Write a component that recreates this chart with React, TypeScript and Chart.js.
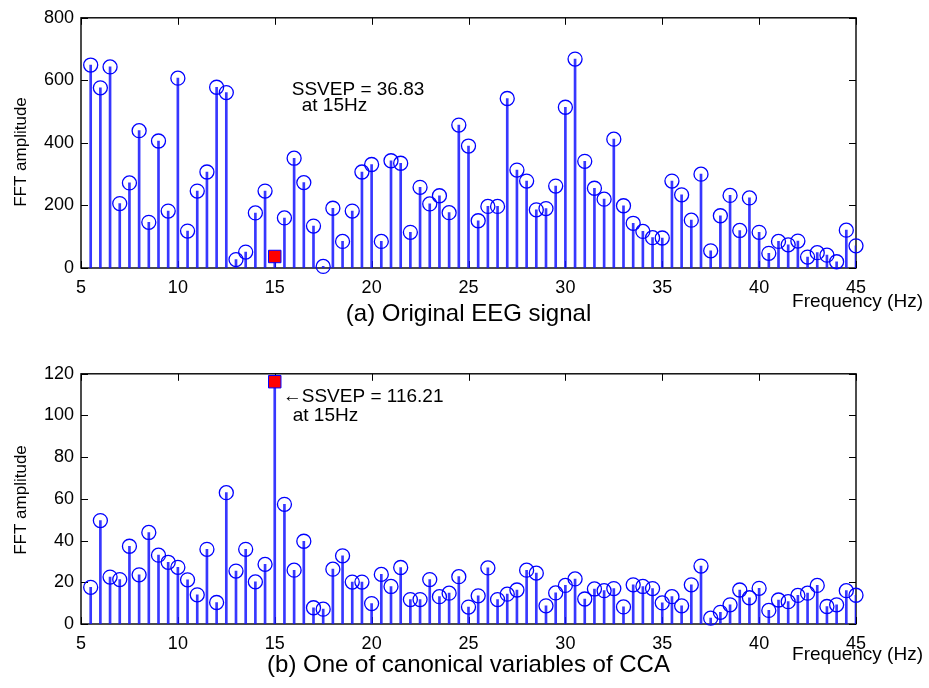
import React, { useEffect, useRef } from "react";
import { Chart, registerables } from "chart.js";

Chart.register(...registerables);

// ---------- data ----------
const frequencies = [
  5.5, 6, 6.5, 7, 7.5, 8, 8.5, 9, 9.5, 10,
  10.5, 11, 11.5, 12, 12.5, 13, 13.5, 14, 14.5, 15,
  15.5, 16, 16.5, 17, 17.5, 18, 18.5, 19, 19.5, 20,
  20.5, 21, 21.5, 22, 22.5, 23, 23.5, 24, 24.5, 25,
  25.5, 26, 26.5, 27, 27.5, 28, 28.5, 29, 29.5, 30,
  30.5, 31, 31.5, 32, 32.5, 33, 33.5, 34, 34.5, 35,
  35.5, 36, 36.5, 37, 37.5, 38, 38.5, 39, 39.5, 40,
  40.5, 41, 41.5, 42, 42.5, 43, 43.5, 44, 44.5, 45,
];

const eegAmplitude = [
  649, 576, 643, 206, 272, 439, 146, 406, 182, 607,
  118, 246, 307, 578, 561, 27, 51, 176, 246, 36.83,
  160, 351, 273, 134, 5, 191, 85, 182, 307, 331,
  85, 343, 335, 114, 258, 205, 231, 177, 457, 390,
  151, 197, 197, 542, 313, 278, 186, 190, 262, 514,
  668, 341, 255, 220, 412, 199, 143, 117, 97, 96,
  278, 234, 153, 300, 55, 167, 232, 120, 224, 114,
  47, 85, 74, 86, 35, 49, 41, 20, 121, 71,
];

const ccaAmplitude = [
  17.6, 49.6, 22.5, 21.3, 37.3, 23.6, 43.9, 33, 29.6, 27.2,
  21.2, 14, 35.8, 10.3, 63, 25.4, 35.8, 20.2, 28.6, 116.21,
  57.4, 25.8, 39.7, 7.8, 7.1, 26.3, 32.7, 20.1, 20.1, 9.8,
  23.8, 18, 27.1, 11.7, 11.7, 21.3, 13.1, 14.8, 22.7, 8.1,
  13.5, 26.9, 11.7, 14.3, 16.3, 25.8, 24.4, 8.7, 14.9, 18.5,
  21.6, 12, 16.8, 16, 17, 8.2, 18.8, 18, 17, 10.1,
  13.1, 8.7, 18.8, 27.8, 2.8, 5.6, 9.2, 16.3, 12.6, 17.1,
  6.5, 11.5, 10.7, 13.7, 14.8, 18.5, 8.4, 9.2, 16, 13.8,
];

const freqTicks = [5, 10, 15, 20, 25, 30, 35, 40, 45];
const eegTicks = [0, 200, 400, 600, 800];
const ccaTicks = [0, 20, 40, 60, 80, 100, 120];
const ssvepFreq = 15;

// ---------- styles ----------
const FONT = "'Liberation Sans', Arial, Helvetica, sans-serif";
const BLUE = "#0000ff";
const W = 929;

type PanelProps = {
  amps: number[];
  yTicks: number[];
  caption: string;
  note1: string;
  note2: string;
  note1Dx: number;
  note2Dx: number;
  note1Y: number;
  note2Y: number;
  freqLabelY: number;
  captionY: number;
  yLabelCenter: number;
  height: number;
  top: number;
};

function Panel(p: PanelProps) {
  const ref = useRef<HTMLCanvasElement>(null);

  useEffect(() => {
    const canvas = ref.current;
    if (!canvas) return;
    const peakIdx = frequencies.indexOf(ssvepFreq);
    const pts = frequencies.map((f, i) => ({ x: f, y: p.amps[i] }));
    const circles = pts.filter((_, i) => i !== peakIdx);
    const peak = [pts[peakIdx]];

    const decor = {
      id: "decor",
      beforeDatasetsDraw(chart: any) {
        const { ctx, chartArea: a, scales } = chart;
        const xs = scales.x;
        const ys = scales.y;
        ctx.save();
        ctx.strokeStyle = "#000";
        ctx.lineWidth = 1;
        ctx.beginPath();
        for (const t of freqTicks) {
          const px = Math.round(xs.getPixelForValue(t)) + 0.5;
          ctx.moveTo(px, a.bottom);
          ctx.lineTo(px, a.bottom - 7);
          ctx.moveTo(px, a.top);
          ctx.lineTo(px, a.top + 7);
        }
        for (const t of p.yTicks) {
          const py = Math.round(ys.getPixelForValue(t)) + 0.5;
          ctx.moveTo(a.left, py);
          ctx.lineTo(a.left + 7, py);
          ctx.moveTo(a.right, py);
          ctx.lineTo(a.right - 7, py);
        }
        ctx.stroke();
        ctx.lineWidth = 1.4;
        ctx.strokeRect(a.left, a.top, a.right - a.left, a.bottom - a.top);
        ctx.restore();
      },
      afterDraw(chart: any) {
        const { ctx, chartArea: a, scales } = chart;
        const xs = scales.x;
        const px15 = xs.getPixelForValue(ssvepFreq);
        ctx.save();
        ctx.fillStyle = "#000";
        ctx.textBaseline = "alphabetic";
        ctx.textAlign = "left";
        ctx.font = `19px ${FONT}`;
        ctx.fillText(p.note1, px15 + p.note1Dx, p.note1Y);
        ctx.fillText(p.note2, px15 + p.note2Dx, p.note2Y);
        ctx.textAlign = "right";
        ctx.fillText("Frequency (Hz)", 923, p.freqLabelY);
        ctx.textAlign = "center";
        ctx.font = `24px ${FONT}`;
        ctx.fillText(p.caption, (a.left + a.right) / 2, p.captionY);
        ctx.translate(21, p.yLabelCenter);
        ctx.rotate(-Math.PI / 2);
        ctx.font = `17px ${FONT}`;
        ctx.textBaseline = "middle";
        ctx.fillText("FFT amplitude", 0, 0);
        ctx.restore();
      },
    };

    const chart = new Chart(canvas, {
      type: "bar",
      data: {
        datasets: [
          {
            type: "bar",
            data: pts as any,
            backgroundColor: "rgba(20,20,255,0.85)",
            borderWidth: 0,
            barThickness: 2,
            order: 3,
          } as any,
          {
            type: "scatter",
            data: circles as any,
            pointStyle: "circle",
            pointRadius: 7,
            borderColor: BLUE,
            backgroundColor: "rgba(0,0,0,0)",
            borderWidth: 1.3,
            clip: false,
            order: 2,
          } as any,
          {
            type: "scatter",
            data: peak as any,
            pointStyle: "rect",
            pointRadius: 8.8,
            borderColor: BLUE,
            backgroundColor: "#ff0000",
            borderWidth: 1,
            clip: false,
            order: 1,
          } as any,
        ],
      },
      options: {
        responsive: false,
        animation: false,
        events: [],
        layout: { padding: { left: 0, right: 73, top: 12, bottom: 0 } },
        plugins: {
          legend: { display: false },
          tooltip: { enabled: false },
          title: { display: false },
        },
        scales: {
          x: {
            type: "linear",
            min: 5,
            max: 45,
            offset: false,
            grid: { display: false, drawTicks: false, offset: false },
            border: { display: false },
            ticks: {
              color: "#000",
              font: { family: FONT, size: 18 },
              padding: 9,
              maxRotation: 0,
              autoSkip: false,
            },
            afterBuildTicks: (s: any) => {
              s.ticks = freqTicks.map((v) => ({ value: v }));
            },
            afterFit: (s: any) => {
              s.height = p.height - 268;
            },
          },
          y: {
            type: "linear",
            min: p.yTicks[0],
            max: p.yTicks[p.yTicks.length - 1],
            grid: { display: false, drawTicks: false },
            border: { display: false },
            ticks: {
              color: "#000",
              font: { family: FONT, size: 18 },
              padding: 7,
            },
            afterBuildTicks: (s: any) => {
              s.ticks = p.yTicks.map((v) => ({ value: v }));
            },
            afterFit: (s: any) => {
              s.width = 81;
            },
          },
        } as any,
      },
      plugins: [decor],
    });
    return () => chart.destroy();
  }, []);

  return (
    <canvas
      ref={ref}
      width={W}
      height={p.height}
      style={{
        position: "absolute",
        left: 0,
        top: p.top,
        width: W,
        height: p.height,
        display: "block",
      }}
    />
  );
}

export default function App() {
  return (
    <div
      style={{
        position: "fixed",
        left: 0,
        top: 0,
        width: W,
        height: 688,
        overflow: "hidden",
        background: "#fff",
      }}
    >
      <Panel
        amps={eegAmplitude}
        yTicks={eegTicks}
        caption="(a) Original EEG signal"
        note1="SSVEP = 36.83"
        note2="at 15Hz"
        note1Dx={17}
        note2Dx={27}
        note1Y={95}
        note2Y={111}
        freqLabelY={307}
        captionY={321}
        yLabelCenter={152}
        height={356}
        top={0}
      />
      <Panel
        amps={ccaAmplitude}
        yTicks={ccaTicks}
        caption="(b) One of canonical variables of CCA"
        note1="←SSVEP = 116.21"
        note2="at 15Hz"
        note1Dx={8}
        note2Dx={18}
        note1Y={46}
        note2Y={65}
        freqLabelY={304}
        captionY={316}
        yLabelCenter={144}
        height={332}
        top={356}
      />
    </div>
  );
}
